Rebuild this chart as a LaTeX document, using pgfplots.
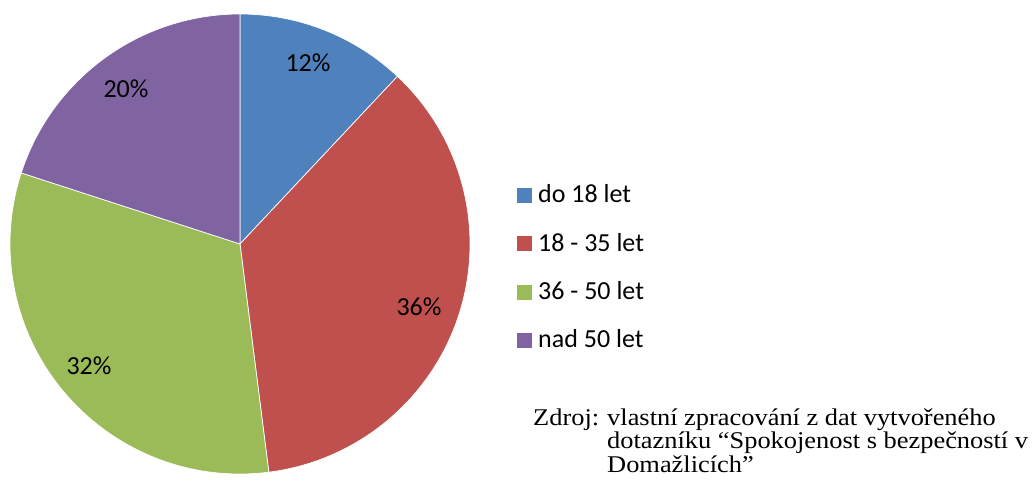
\documentclass[border=0pt]{standalone}
\usepackage{pgfplots}
\pgfplotsset{compat=1.18}
\usepackage{fontspec}
\setmainfont{Carlito}
\newfontfamily\timesf{Liberation Serif}
\definecolor{cblue}{HTML}{4F81BD}
\definecolor{cred}{HTML}{C0504D}
\definecolor{cgreen}{HTML}{9BBB59}
\definecolor{cpurple}{HTML}{8064A2}
\begin{document}
\begin{tikzpicture}
\begin{axis}[name=ax, x=1pt, y=1pt, xmin=0, xmax=1036, ymin=0, ymax=489,
  hide axis, clip=false, scale only axis]
% slices: start percent, value (clockwise from 12 o'clock), centre (240,245), r=230
\fill[cblue, draw=white, line width=0.7pt] (axis cs:240,245) -- ++({90-3.6*0}:230pt) arc[start angle={90-3.6*0}, end angle={90-3.6*12}, radius=230pt] -- cycle;
\fill[cred, draw=white, line width=0.7pt] (axis cs:240,245) -- ++({90-3.6*12}:230pt) arc[start angle={90-3.6*12}, end angle={90-3.6*48}, radius=230pt] -- cycle;
\fill[cgreen, draw=white, line width=0.7pt] (axis cs:240,245) -- ++({90-3.6*48}:230pt) arc[start angle={90-3.6*48}, end angle={90-3.6*80}, radius=230pt] -- cycle;
\fill[cpurple, draw=white, line width=0.7pt] (axis cs:240,245) -- ++({90-3.6*80}:230pt) arc[start angle={90-3.6*80}, end angle={90-3.6*100}, radius=230pt] -- cycle;
% data labels
\node[font=\fontsize{26}{30}\selectfont] at (axis cs:308,426) {12\%};
\node[font=\fontsize{26}{30}\selectfont] at (axis cs:419,182) {36\%};
\node[font=\fontsize{26}{30}\selectfont] at (axis cs:89,123) {32\%};
\node[font=\fontsize{26}{30}\selectfont] at (axis cs:126,400) {20\%};
% legend
\fill[cblue] (axis cs:517,286) rectangle (axis cs:532,301);
\fill[cred] (axis cs:517,238) rectangle (axis cs:532,253);
\fill[cgreen] (axis cs:517,189) rectangle (axis cs:532,204);
\fill[cpurple] (axis cs:517,141) rectangle (axis cs:532,156);
\node[anchor=base west, inner sep=0pt, font=\fontsize{26}{30}\selectfont] at (axis cs:538,286) {do 18 let};
\node[anchor=base west, inner sep=0pt, font=\fontsize{26}{30}\selectfont] at (axis cs:538,237) {18 - 35 let};
\node[anchor=base west, inner sep=0pt, font=\fontsize{26}{30}\selectfont] at (axis cs:538,189) {36 - 50 let};
\node[anchor=base west, inner sep=0pt, font=\fontsize{26}{30}\selectfont] at (axis cs:538,141) {nad 50 let};
% source
\node[anchor=base west, inner sep=0pt, xscale=1.1, font=\timesf\fontsize{24}{26}\selectfont] at (axis cs:533,63) {Zdroj:};
\node[anchor=base west, inner sep=0pt, xscale=1.1, font=\timesf\fontsize{24}{26}\selectfont] at (axis cs:607,63) {vlastní zpracování z dat vytvořeného};
\node[anchor=base west, inner sep=0pt, xscale=1.1, font=\timesf\fontsize{24}{26}\selectfont] at (axis cs:607,40) {dotazníku “Spokojenost s bezpečností v};
\node[anchor=base west, inner sep=0pt, xscale=1.1, font=\timesf\fontsize{24}{26}\selectfont] at (axis cs:607,16) {Domažlicích”};
\end{axis}
\pgfresetboundingbox
\path[use as bounding box] (ax.south west) rectangle (ax.north east);
\end{tikzpicture}
\end{document}
